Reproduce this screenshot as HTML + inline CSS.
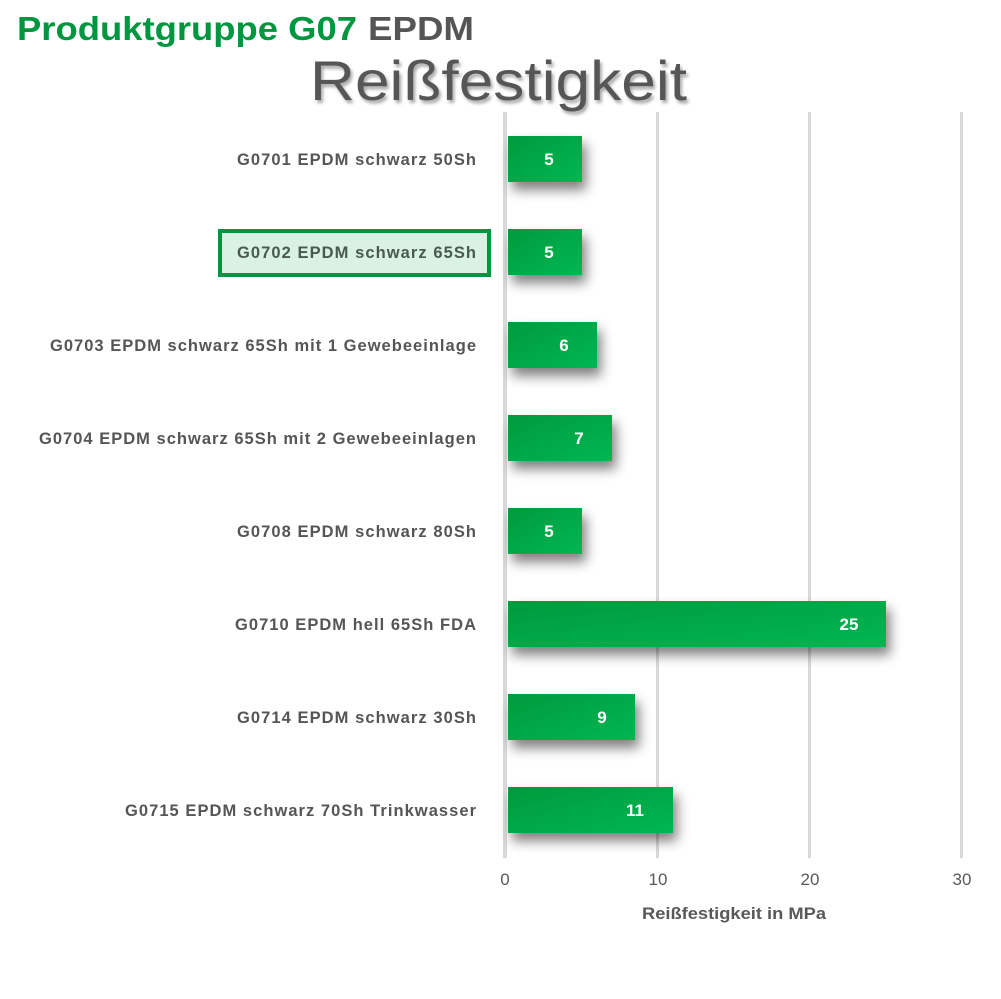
<!DOCTYPE html>
<html><head><meta charset="utf-8"><style>
html,body{margin:0;padding:0;background:#fff;}
svg{display:block;}
text{font-family:"Liberation Sans",Arial,sans-serif;}
</style></head><body>
<svg width="1001" height="999" viewBox="0 0 1001 999" xmlns="http://www.w3.org/2000/svg">
<defs>
<linearGradient id="g" x1="0" y1="0" x2="1" y2="1">
<stop offset="0" stop-color="#009a3e"/><stop offset="1" stop-color="#00b751"/>
</linearGradient>
<filter id="sh" x="-30%" y="-40%" width="170%" height="220%">
<feGaussianBlur in="SourceAlpha" stdDeviation="6"/>
<feOffset dx="4" dy="8"/>
<feComponentTransfer><feFuncA type="linear" slope="0.5"/></feComponentTransfer>
<feMerge><feMergeNode/><feMergeNode in="SourceGraphic"/></feMerge>
</filter>
<filter id="ts"><feGaussianBlur in="SourceAlpha" stdDeviation="1.5"/><feOffset dx="2" dy="3"/><feComponentTransfer><feFuncA type="linear" slope="0.35"/></feComponentTransfer><feMerge><feMergeNode/><feMergeNode in="SourceGraphic"/></feMerge></filter>
</defs>
<text x="17" y="40" font-size="33" font-weight="bold" fill="#009640" textLength="340" lengthAdjust="spacingAndGlyphs">Produktgruppe G07</text>
<text x="368" y="40" font-size="33" font-weight="bold" fill="#555" textLength="106" lengthAdjust="spacingAndGlyphs">EPDM</text>
<text x="310" y="100" font-size="56" fill="#575757" filter="url(#ts)" textLength="377" lengthAdjust="spacingAndGlyphs">Reißfestigkeit</text>
<g fill="#d9d9d9">
<rect x="503" y="112" width="4" height="746"/>
<rect x="656" y="112" width="3" height="746"/>
<rect x="808" y="112" width="3" height="746"/>
<rect x="960" y="112" width="3" height="746"/>
</g>
<rect x="220" y="231" width="269" height="44" fill="#d9f2e4" stroke="#009640" stroke-width="4"/>
<g font-size="16.5" font-weight="bold" fill="#555" lengthAdjust="spacingAndGlyphs">
<text x="237" y="165" textLength="239">G0701 EPDM schwarz 50Sh</text>
<text x="237" y="258" textLength="239" fill="#4a5a50">G0702 EPDM schwarz 65Sh</text>
<text x="50" y="351" textLength="426">G0703 EPDM schwarz 65Sh mit 1 Gewebeeinlage</text>
<text x="39" y="444" textLength="437">G0704 EPDM schwarz 65Sh mit 2 Gewebeeinlagen</text>
<text x="237" y="537" textLength="239">G0708 EPDM schwarz 80Sh</text>
<text x="235" y="630" textLength="241">G0710 EPDM hell 65Sh FDA</text>
<text x="237" y="723" textLength="239">G0714 EPDM schwarz 30Sh</text>
<text x="125" y="816" textLength="351">G0715 EPDM schwarz 70Sh Trinkwasser</text>
</g>
<g fill="url(#g)" filter="url(#sh)">
<rect x="508" y="136" width="74" height="46"/>
<rect x="508" y="229" width="74" height="46"/>
<rect x="508" y="322" width="89" height="46"/>
<rect x="508" y="415" width="104" height="46"/>
<rect x="508" y="508" width="74" height="46"/>
<rect x="508" y="601" width="378" height="46"/>
<rect x="508" y="694" width="127" height="46"/>
<rect x="508" y="787" width="165" height="46"/>
</g>
<g font-size="17" font-weight="bold" fill="#fff" text-anchor="middle">
<text x="549" y="165">5</text>
<text x="549" y="258">5</text>
<text x="564" y="351">6</text>
<text x="579" y="444">7</text>
<text x="549" y="537">5</text>
<text x="849" y="630">25</text>
<text x="602" y="723">9</text>
<text x="635" y="816">11</text>
</g>
<g font-size="17" fill="#595959" text-anchor="middle">
<text x="505" y="885">0</text>
<text x="658" y="885">10</text>
<text x="810" y="885">20</text>
<text x="962" y="885">30</text>
</g>
<text x="642" y="919" font-size="16.5" font-weight="bold" fill="#595959" textLength="184" lengthAdjust="spacingAndGlyphs">Reißfestigkeit in MPa</text>
</svg>
</body></html>
